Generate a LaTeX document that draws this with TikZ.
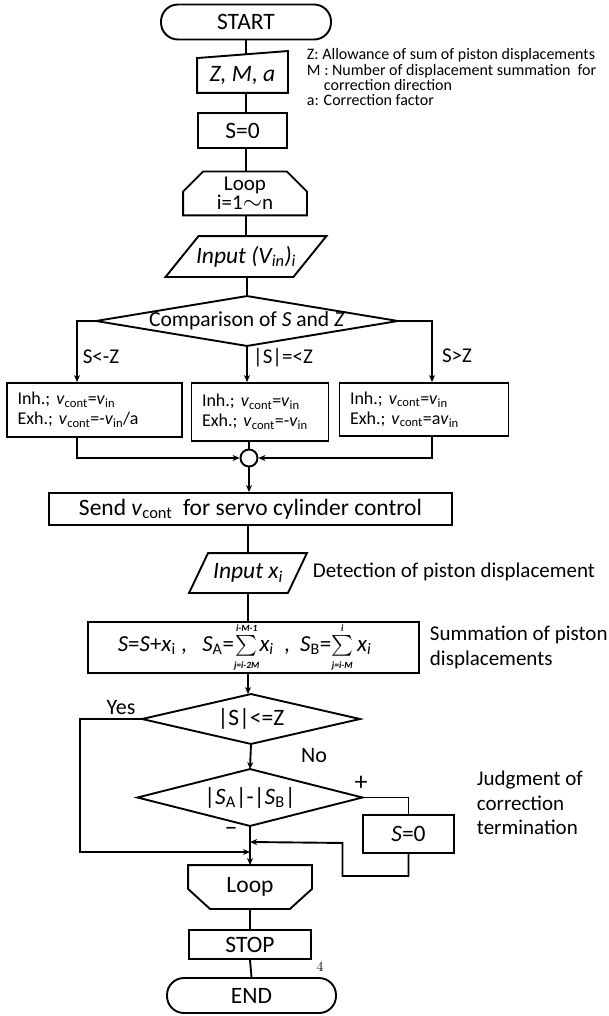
\documentclass[tikz,border=0pt]{standalone}
\usepackage{fontspec}
\usepackage{exscale}
\setmainfont{Carlito}
\usetikzlibrary{arrows.meta,calc}
\tikzset{
  term/.style={draw,rounded corners=17pt,minimum width=#1,minimum height=35pt,inner sep=0pt},
  stepbox/.style 2 args={draw,minimum width=#1,minimum height=#2,inner sep=0pt},
  blank/.style 2 args={minimum width=#1,minimum height=#2,inner sep=0pt},
  casebox/.style={draw,align=left,text width=#1,inner xsep=10.5pt,inner ysep=0pt,font=\fontsize{18}{20}\selectfont},
  note/.style={anchor=west,inner sep=0pt,font=\fontsize{16}{18}\selectfont},
  side/.style={anchor=west,inner sep=0pt,align=left,font=\fontsize{21}{24.5}\selectfont},
  lbl/.style={inner sep=0pt,font=\fontsize{21}{22}\selectfont}
}
\newcommand{\limtxt}[1]{\mbox{\fontsize{9.5}{9.5}\selectfont\bfseries\itshape #1}}
\newcommand{\sumof}[2]{{\fontsize{22}{22}\selectfont$\sum\limits_{\limtxt{#1}}^{\limtxt{#2}}$}}
\begin{document}
\begin{tikzpicture}[x=1pt,y=-1pt,line width=1.9pt,>={Stealth[length=7pt,width=6pt]},every node/.style={font=\fontsize{23.5}{26}\selectfont}]
  \useasboundingbox (0,0) rectangle (608,1016);
  \node[term=170pt] (start) at (246,22) {START};
  \node[blank={89pt}{33pt}] (zma) at (242.5,75.5) {\textit{Z, M, a}};
  \draw (zma.south west) -- (zma.north west) -- ([yshift=7pt]zma.north east) -- (zma.south east) -- cycle;
  \coordinate (zmatop) at ($(zma.north west)!.53!([yshift=7pt]zma.north east)$);
  \node[note] (n1) at (306,55) {Z: Allowance of sum of piston displacements};
  \node[note] (n2) at (306,71) {M : Number of displacement summation\ \ for};
  \node[note] (n3) at (323,85) {correction direction};
  \node[note] (n4) at (306,100) {a: Correction factor};
  \node[stepbox={89pt}{35pt}] (s0) at (242.5,130.5) {S=0};
  \node[blank={122pt}{42pt},align=center,font=\fontsize{21}{18.5}\selectfont] (loop1) at (245,193.5) {Loop\\i=1{\fontsize{28}{18}\selectfont$\sim$}n};
  \draw (loop1.south west) -- ([yshift=-20pt]loop1.north west) -- ([xshift=20pt]loop1.north west) -- ([xshift=-20pt]loop1.north east) -- ([yshift=-20pt]loop1.north east) -- (loop1.south east) -- cycle;
  \node[blank={126pt}{39pt}] (inp1) at (246,256.5) {\textit{Input (V\textsubscript{in})\textsubscript{i}}};
  \draw ([xshift=-16.5pt]inp1.south west) -- ([xshift=16.5pt]inp1.north west) -- ([xshift=16.5pt]inp1.north east) -- ([xshift=-16.5pt]inp1.south east) -- cycle;
  \node[blank={300pt}{48pt},font=\fontsize{21.5}{24}\selectfont] (cmp) at (247,321) {Comparison of \textit{S} and \textit{Z}};
  \draw (cmp.west) -- (cmp.north) -- (cmp.east) -- (cmp.south) -- cycle;
  \node[casebox=154pt,minimum height=54pt] (bl) at (94.5,410) {Inh.; \textit{v}\textsubscript{cont}=\textit{v}\textsubscript{in}\\Exh.; \textit{v}\textsubscript{cont}=-\textit{v}\textsubscript{in}/a};
  \node[casebox=116pt,minimum height=58pt] (bm) at (260,412) {Inh.; \textit{v}\textsubscript{cont}=\textit{v}\textsubscript{in}\\Exh.; \textit{v}\textsubscript{cont}=-\textit{v}\textsubscript{in}};
  \node[casebox=148pt,minimum height=53pt] (br) at (424,409.5) {Inh.; \textit{v}\textsubscript{cont}=\textit{v}\textsubscript{in}\\Exh.; \textit{v}\textsubscript{cont}=a\textit{v}\textsubscript{in}};
  \node[lbl] (lt) at (101,357) {S<-Z};
  \node[lbl] (eq) at (283,358) {|S|=<Z};
  \node[lbl] (gt) at (457,356) {S>Z};
  \node[draw,circle,minimum size=17pt,inner sep=0pt] (jn) at (249,458) {};
  \node[stepbox={403pt}{32pt}] (send) at (250.5,509) {Send \textit{v}\textsubscript{cont}\ \ for servo cylinder control};
  \node[blank={97pt}{38pt}] (inp2) at (248,573) {\textit{Input x\textsubscript{i}}};
  \draw ([xshift=-9.5pt]inp2.south west) -- ([xshift=9.5pt]inp2.north west) -- ([xshift=9.5pt]inp2.north east) -- ([xshift=-9.5pt]inp2.south east) -- cycle;
  \node[side] (det) at (312,572) {Detection of piston displacement};
  \node[stepbox={331pt}{51pt},font=\fontsize{23}{24}\selectfont] (sum) at (253.5,647.5) {\textit{S}=\textit{S}+\textit{x}\textsubscript{i}\ ,\ \ \ \textit{S}\textsubscript{A}=\sumof{j=i-2M}{i-M-1}\textit{x\textsubscript{i}}\ \ ,\ \ \textit{S}\textsubscript{B}=\sumof{j=i-M}{i}\,\textit{x\textsubscript{i}}\hspace*{18pt}};
  \node[side] (summ) at (429,647.5) {Summation of piston\\displacements};
  \node[blank={216pt}{48pt}] (d1) at (251,719) {|S|<=Z};
  \draw (d1.west) -- (d1.north) -- (d1.east) -- (d1.south) -- cycle;
  \node[blank={223pt}{55pt}] (d2) at (250,797.5) {|\textit{S}\textsubscript{A}|-|\textit{S}\textsubscript{B}|};
  \draw (d2.west) -- (d2.north) -- (d2.east) -- (d2.south) -- cycle;
  \node[lbl,font=\fontsize{22}{22}\selectfont] (yes) at (121,708) {Yes};
  \node[lbl,font=\fontsize{22}{22}\selectfont] (no) at (314,756) {No};
  \node[lbl,font=\fontsize{26}{26}\selectfont] (plus) at (361,783) {+};
  \node[lbl,font=\fontsize{26}{26}\selectfont] (minus) at (231,831) {\textendash};
  \node[stepbox={91pt}{38pt}] (s02) at (408.5,834) {\textit{S}=0};
  \node[side] (judg) at (476,803) {Judgment of\\correction\\termination};
  \coordinate (m1) at (250,842); \coordinate (m2) at (250,852);
  \node[blank={122pt}{42pt}] (loop2) at (250,887) {Loop};
  \draw (loop2.north west) -- ([yshift=20pt]loop2.south west) -- ([xshift=22pt]loop2.south west) -- ([xshift=-22pt]loop2.south east) -- ([yshift=20pt]loop2.south east) -- (loop2.north east) -- cycle;
  \node[stepbox={122pt}{29pt}] (stop) at (250,944.5) {STOP};
  \node[lbl,font=\fontfamily{lmr}\fontsize{14}{14}\selectfont] (pg) at (320,967) {4};
  \node[term=169pt] (end) at (251.5,995.5) {END};
  \draw (start.south) -- (start.south |- zmatop); \draw (zma.south -| start.south) -- (s0.north -| start.south);
  \draw (s0.south -| start.south) -- (loop1.north -| start.south); \draw (loop1.south -| inp1.north) -- (inp1.north);
  \draw (inp1.south -| cmp.north) -- (cmp.north);
  \draw[->] (cmp.west) -| ([xshift=-17.5pt]bl.north); \draw[->] (cmp.east) -| ([xshift=8pt]br.north);
  \draw[->] (cmp.south) -- (cmp.south |- bm.north);
  \draw[->] ([xshift=-17.5pt]bl.south) |- (jn.west); \draw[->] ([xshift=8pt]br.south) |- (jn.east);
  \draw (jn.north |- bm.south) -- (jn.north);
  \draw[->] (jn.south) -- (jn.south |- send.north);
  \draw (send.south -| inp2.north) -- (inp2.north); \draw (inp2.south) -- (inp2.south |- sum.north);
  \draw[->] (inp2.south |- sum.south) -- (inp2.south |- d1.north);
  \draw[->] (d1.south) -- (d2.north);
  \draw[->] (d1.west) -- ++(-62,0) |- (m2);
  \draw (d2.east) -| (s02.north);
  \draw[->] (s02.south) -- ++(0,22) -| ++(-66,-33) -- (m1);
  \draw[->] (d2.south) -- (loop2.north);
  \draw (loop2.south) -- (stop.north); \draw (stop.south) -- (end.north);
\end{tikzpicture}
\end{document}
